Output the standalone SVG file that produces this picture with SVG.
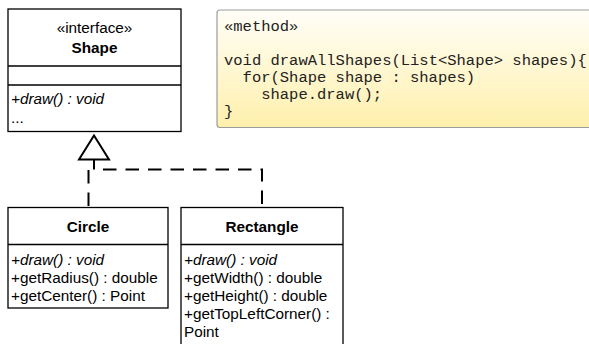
<svg xmlns="http://www.w3.org/2000/svg" width="589" height="344" viewBox="0 0 589 344">
  <defs>
    <linearGradient id="noteGrad" x1="0" y1="0" x2="0" y2="1">
      <stop offset="0" stop-color="#fffef8"/>
      <stop offset="1" stop-color="#fff0ac"/>
    </linearGradient>
    <marker id="realize" markerUnits="userSpaceOnUse" viewBox="0 0 28 34" refX="2" refY="17" markerWidth="28" markerHeight="34" orient="auto-start-reverse">
      <path d="M2,2 L26,17 L2,32 Z" fill="#ffffff" stroke="#000000" stroke-width="2" stroke-dasharray="none"/>
    </marker>
    <style>
      .box { fill: #ffffff; stroke: #000000; stroke-width: 1.3; }
      .div { stroke: #000000; stroke-width: 1.3; fill: none; }
      .uml { font-family: "Liberation Sans", Helvetica, Arial, sans-serif; font-size: 15.3px; fill: #000000; }
      .title { font-weight: bold; text-anchor: middle; }
      .center { text-anchor: middle; }
      .ital { font-style: italic; }
      .code { font-family: "Liberation Mono", "Courier New", monospace; font-size: 15.5px; fill: #222222; }
      .edge { fill: none; stroke: #000000; stroke-width: 2; stroke-dasharray: 13.5 9; }
    </style>
  </defs>

  <rect x="0" y="0" width="589" height="344" fill="#ffffff"/>

  <g id="node-shape">
    <rect class="box" x="8" y="9" width="173" height="122.5"/>
    <line class="div" x1="8" y1="66" x2="181" y2="66"/>
    <line class="div" x1="8" y1="85" x2="181" y2="85"/>
    <text class="uml center" x="94.5" y="33">«interface»</text>
    <text class="uml title" x="94.5" y="53">Shape</text>
    <text class="uml ital" x="11" y="104">+draw() : void</text>
    <text class="uml" x="11" y="123">...</text>
  </g>

  <g id="node-note">
    <rect x="217" y="10" width="400" height="117.5" rx="3" ry="3" fill="url(#noteGrad)" stroke="#9c9c9c" stroke-width="1.2"/>
    <text class="code" x="224" y="31">«method»</text>
    <text class="code" x="224" y="65">void drawAllShapes(List&lt;Shape&gt; shapes){</text>
    <text class="code" x="242.6" y="82">for(Shape shape : shapes)</text>
    <text class="code" x="261.2" y="99">shape.draw();</text>
    <text class="code" x="224" y="116">}</text>
  </g>

  <g id="node-circle">
    <rect class="box" x="8" y="207.5" width="160" height="100.5"/>
    <line class="div" x1="8" y1="244.5" x2="168" y2="244.5"/>
    <text class="uml title" x="88" y="232">Circle</text>
    <text class="uml ital" x="11" y="265">+draw() : void</text>
    <text class="uml" x="11" y="283">+getRadius() : double</text>
    <text class="uml" x="11" y="301">+getCenter() : Point</text>
  </g>

  <g id="node-rectangle">
    <rect class="box" x="181" y="207.5" width="162" height="150"/>
    <line class="div" x1="181" y1="244.5" x2="343" y2="244.5"/>
    <text class="uml title" x="262" y="232">Rectangle</text>
    <text class="uml ital" x="184" y="265">+draw() : void</text>
    <text class="uml" x="184" y="283">+getWidth() : double</text>
    <text class="uml" x="184" y="301">+getHeight() : double</text>
    <text class="uml" x="184" y="319">+getTopLeftCorner() :</text>
    <text class="uml" x="184" y="337">Point</text>
  </g>

  <g id="connectors">
    <path class="edge" d="M94,159.5 V169.5 H262 V207.5" stroke-dashoffset="3.5" marker-start="url(#realize)"/>
    <path class="edge" d="M88.5,170 V207.5"/>
  </g>
</svg>
